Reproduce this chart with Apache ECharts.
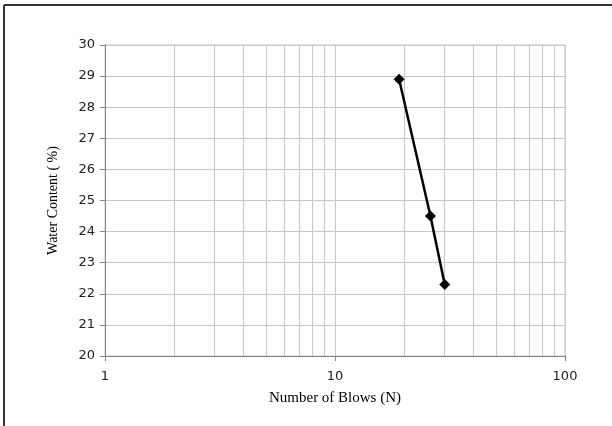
<!DOCTYPE html>
<html>
<head>
<meta charset="utf-8">
<script src="https://cdn.jsdelivr.net/npm/echarts@6/dist/echarts.min.js"></script>
<style>
html,body{margin:0;padding:0;background:#fff;}
#c{width:612px;height:426px;}
</style>
</head>
<body>
<div id="c"></div>
<script>
const blows = [19, 26, 30];
const waterContent = [28.9, 24.5, 22.3];
const minorTicks = [2, 3, 4, 5, 6, 7, 8, 9, 20, 30, 40, 50, 60, 70, 80, 90];
const xTickLabels = [1, 10, 100];

const gridColor = '#c8c8c8';
const chart = echarts.init(document.getElementById('c'), null, {renderer: 'canvas'});
chart.setOption({
  animation: false,
  backgroundColor: '#fff',
  grid: {left: 105, right: 47, top: 45, bottom: 70, show: true, borderColor: gridColor, borderWidth: 1},
  graphic: [
    {type: 'line', shape: {x1: 4, y1: 5, x2: 612, y2: 5}, style: {stroke: '#333', lineWidth: 2}},
    {type: 'line', shape: {x1: 4, y1: 5, x2: 4, y2: 426}, style: {stroke: '#333', lineWidth: 2}}
  ],
  xAxis: {
    type: 'log', logBase: 10, min: xTickLabels[0], max: xTickLabels[2],
    name: 'Number of Blows (N)', nameLocation: 'middle', nameGap: 35,
    nameTextStyle: {fontFamily: 'Liberation Serif', fontSize: 15, color: '#000'},
    axisLine: {lineStyle: {color: '#868686'}},
    axisTick: {show: true, length: 5, lineStyle: {color: '#868686'}},
    axisLabel: {fontFamily: 'DejaVu Sans', fontSize: 13, color: '#222', margin: 14},
    splitLine: {show: true, lineStyle: {color: gridColor}}
  },
  yAxis: {
    type: 'value', min: 20, max: 30, interval: 1,
    name: 'Water Content ( %)', nameLocation: 'middle', nameGap: 45,
    nameTextStyle: {fontFamily: 'Liberation Serif', fontSize: 14, color: '#000'},
    axisLine: {show: true, lineStyle: {color: '#868686'}},
    axisTick: {show: true, length: 5, lineStyle: {color: '#868686'}},
    axisLabel: {fontFamily: 'DejaVu Sans', fontSize: 13, color: '#222', margin: 10},
    splitLine: {show: true, lineStyle: {color: gridColor}}
  },
  series: [
    {
      type: 'line', data: [], silent: true, z: 0, zlevel: 0,
      markLine: {
        silent: true, symbol: 'none', label: {show: false}, z: 0,
        lineStyle: {color: gridColor, type: 'solid', width: 1},
        data: minorTicks.map(v => ({xAxis: v}))
      }
    },
    {
      type: 'line', z: 10, zlevel: 1,
      data: blows.map((b, i) => [b, waterContent[i]]),
      symbol: 'diamond', symbolSize: 11,
      lineStyle: {color: '#000', width: 2.5},
      itemStyle: {color: '#000'}
    }
  ]
});
</script>
</body>
</html>
